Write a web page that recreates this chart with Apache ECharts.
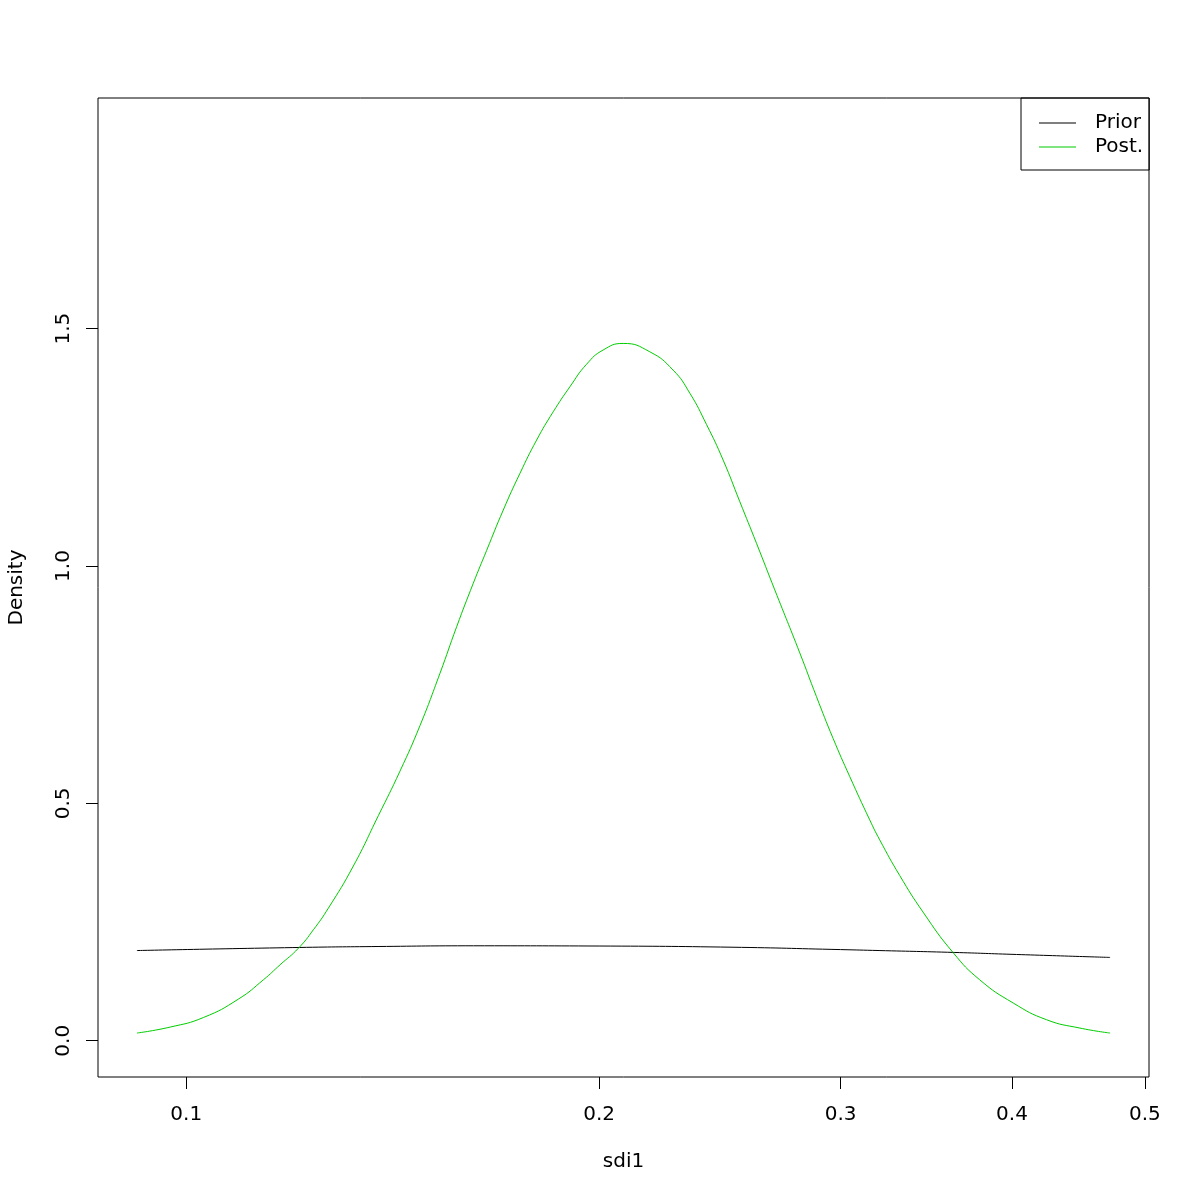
<!DOCTYPE html>
<html>
<head>
<meta charset="utf-8">
<script src="https://cdn.jsdelivr.net/npm/echarts@6/dist/echarts.min.js"></script>
<style>html,body{margin:0;padding:0;background:#fff}#c{width:1200px;height:1200px}</style>
</head>
<body>
<div id="c"></div>
<script>
// sdi1 values (x) and densities
const postX = [0.09206,0.09735,0.10295,0.10917,0.11384,0.11707,0.12076,0.12380,0.12696,0.13239,0.13806,0.14318,0.14807,0.15312,0.15747,0.16192,0.16560,0.17028,0.17512,0.18009,0.18517,0.19043,0.19584,0.20137,0.20824,0.21778,0.22647,0.23291,0.23953,0.24630,0.25330,0.26049,0.26862,0.28012,0.28808,0.29622,0.30464,0.31501,0.32034,0.33130,0.34452,0.36229,0.37890,0.40087,0.42394,0.44832,0.47160];
const postY = [0.0162,0.0288,0.0490,0.0878,0.1284,0.1600,0.1952,0.2337,0.2794,0.3680,0.4740,0.5680,0.6640,0.7741,0.8722,0.9636,1.0330,1.1179,1.1952,1.2653,1.3248,1.3775,1.4250,1.4550,1.4688,1.4512,1.4126,1.3640,1.2980,1.2232,1.1354,1.0478,0.9495,0.8170,0.7248,0.6370,0.5564,0.4653,0.4232,0.3480,0.2710,0.1859,0.1284,0.0794,0.0442,0.0267,0.0162];
const priorX = [0.09206,0.1210,0.1380,0.1620,0.2000,0.2500,0.3000,0.3200,0.3630,0.4000,0.4716];
const priorY = [0.1900,0.1965,0.1985,0.2000,0.1995,0.1970,0.1920,0.1900,0.1860,0.1820,0.1755];
const xTicks = [0.1,0.2,0.3,0.4,0.5];
const yTicks = [0,0.5,1,1.5];
const seriesNames = ['Prior','Post.'];

const lx = v => Math.log10(v);
const xlo = lx(postX[0]), xhi = lx(postX[postX.length-1]);
const xr = xhi - xlo;
const yTop = 1.3 * Math.max(...postY);
const font = 'DejaVu Sans';
const fs = 20;

const chart = echarts.init(document.getElementById('c'));
chart.setOption({
  animation: false,
  backgroundColor: '#fff',
  textStyle: {fontFamily: font},
  grid: {left: 98, top: 98, width: 1051, height: 979, show: true, borderColor: '#000', borderWidth: 1,
    containLabel: false, outerBoundsMode: 'none'},
  legend: {
    left: 1021, top: 98, orient: 'vertical',
    borderColor: '#000', borderWidth: 1,
    padding: [15, 6, 13, 18], itemGap: 4,
    itemWidth: 37, itemHeight: 1, icon: 'rect',
    textStyle: {fontFamily: font, fontSize: fs, color: '#000', padding: [0, 0, 0, 14]},
    data: seriesNames
  },
  xAxis: {
    type: 'value', min: xlo - 0.04*xr, max: xhi + 0.04*xr,
    name: 'sdi1', nameLocation: 'middle', nameGap: 75,
    nameTextStyle: {fontFamily: font, fontSize: fs, color: '#000'},
    axisLine: {show: false, onZero: false}, splitLine: {show: false},
    axisTick: {show: true, length: 12, lineStyle: {color: '#000'}, customValues: xTicks.map(lx)},
    axisLabel: {fontFamily: font, fontSize: fs, color: '#000', margin: 28, customValues: xTicks.map(lx),
      formatter: v => Math.pow(10, v).toFixed(1)}
  },
  yAxis: {
    type: 'value', min: -0.04*yTop, max: yTop*1.04,
    name: 'Density', nameLocation: 'middle', nameGap: 71, nameRotate: 90,
    nameTextStyle: {fontFamily: font, fontSize: fs, color: '#000'},
    axisLine: {show: false, onZero: false}, splitLine: {show: false},
    axisTick: {show: true, length: 12, lineStyle: {color: '#000'}, customValues: yTicks},
    axisLabel: {fontFamily: font, fontSize: fs, color: '#000', margin: 24, rotate: 90, customValues: yTicks,
      formatter: v => v.toFixed(1)}
  },
  series: [
    {name: seriesNames[0], type: 'line', symbol: 'none', smooth: true, color: '#000',
      lineStyle: {width: 1, color: '#000'}, data: priorX.map((x,i)=>[lx(x), priorY[i]])},
    {name: seriesNames[1], type: 'line', symbol: 'none', smooth: true, color: '#00cd00',
      lineStyle: {width: 1, color: '#00cd00'}, data: postX.map((x,i)=>[lx(x), postY[i]])}
  ]
});
</script>
</body>
</html>
